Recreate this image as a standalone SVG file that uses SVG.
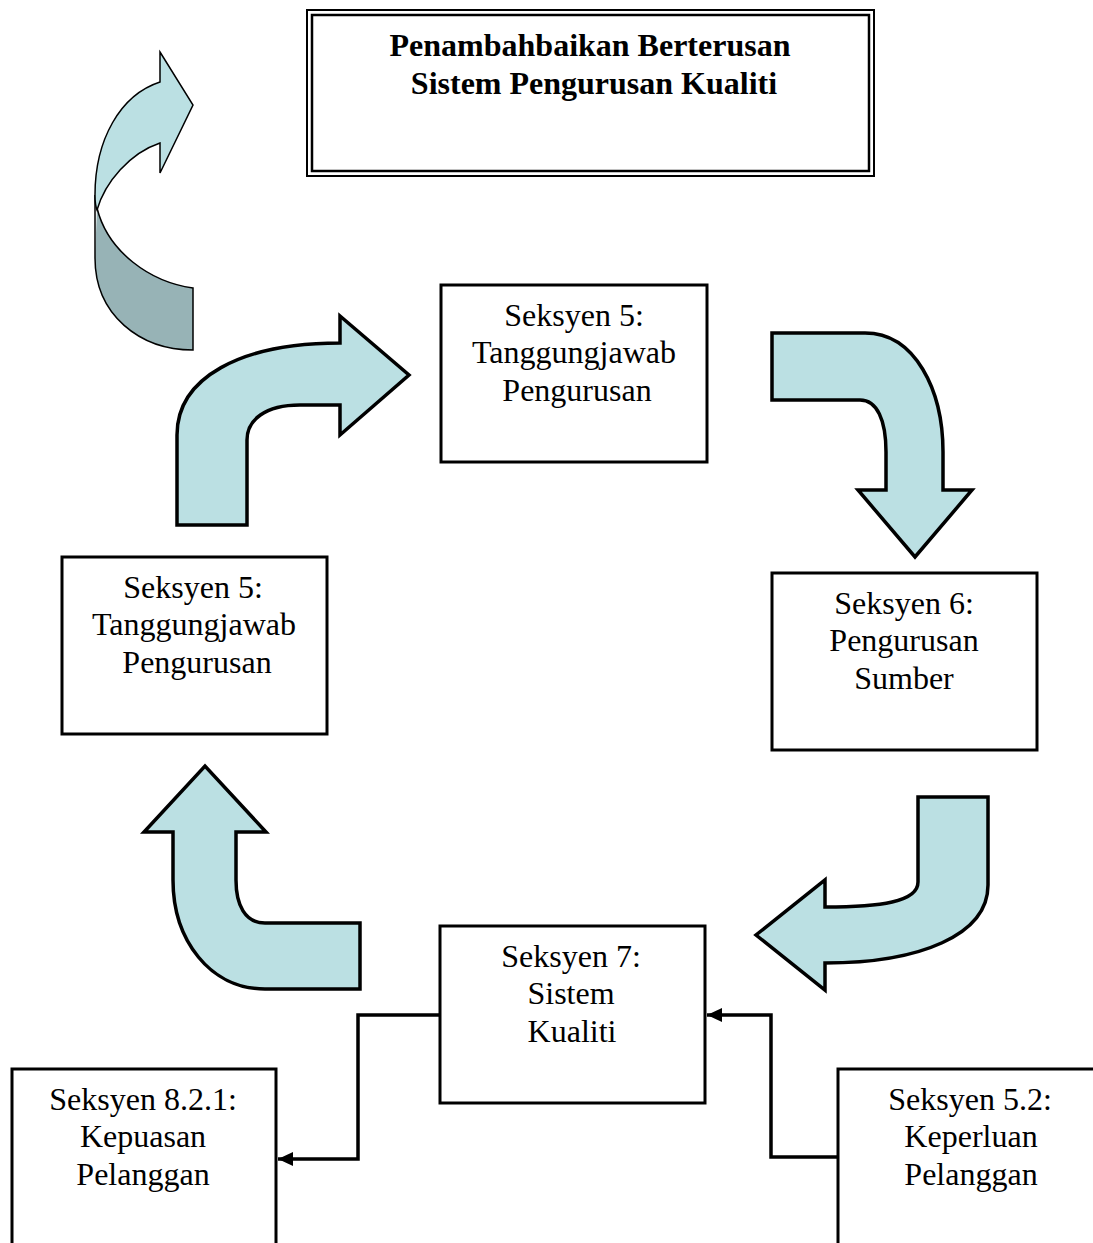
<svg xmlns="http://www.w3.org/2000/svg" width="1093" height="1243" viewBox="0 0 1093 1243">
<style>
.box{fill:#fff;stroke:#000;stroke-width:3}
.t{font-family:"Liberation Serif","Times New Roman",serif;font-size:32px;text-anchor:middle;fill:#000}
.tb{font-family:"Liberation Serif","Times New Roman",serif;font-size:32px;font-weight:bold;text-anchor:middle;fill:#000}
.ba{fill:#BBE0E3;stroke:#000;stroke-width:3.5;stroke-linejoin:miter}
.conn{fill:none;stroke:#000;stroke-width:3.5}
</style>
<defs>
<marker id="ah" markerWidth="15" markerHeight="14" refX="15" refY="7" orient="auto" markerUnits="userSpaceOnUse" viewBox="0 0 15 14">
<path d="M0,0 L15,7 L0,14 Z" fill="#000"/>
</marker>
</defs>
<rect width="1093" height="1243" fill="#fff"/>

<g id="title">
<rect x="307" y="10" width="567" height="166" fill="#fff" stroke="#000" stroke-width="2"/>
<rect x="312" y="15" width="557" height="156" fill="none" stroke="#000" stroke-width="2.5"/>
<text class="tb" x="590" y="56">Penambahbaikan Berterusan</text>
<text class="tb" x="594" y="94">Sistem Pengurusan Kualiti</text>
</g>

<g id="curved-arrow">
<path d="M97,208 L95,258 C95,315 140,350 193,350 L193,288 C150,282 108,252 97,208 Z" fill="#97B3B6" stroke="none"/>
<path d="M95,195 L95,258 C95,315 140,350 193,350 L193,288 C150,282 108,252 97,208" fill="none" stroke="#000" stroke-width="1.5"/>
<path d="M160,52 L193,105 L160,173 L160,143 C130,153 105,182 97,210 C95,205 95,200 95,195 C95,140 120,95 160,82 Z" fill="#BBE0E3" stroke="#000" stroke-width="1.5" stroke-linejoin="miter"/>
</g>

<g id="arrow-up-right">
<path class="ba" d="M177,525 L177,435 C177,378 240,343 340,343 L340,316 L409,375 L340,435 L340,405 L300,405 C265,405 247,420 247,440 L247,525 Z"/>
</g>
<g id="arrow-right-down">
<path class="ba" d="M772,333 L865,333 C915,333 943,390 943,452 L943,490 L972,490 L915,557 L858,490 L886,490 L886,452 C886,420 877,400 860,400 L772,400 Z"/>
</g>
<g id="arrow-down-left">
<path class="ba" d="M918,797 L988,797 L988,885 C988,935 920,963 825,963 L825,990 L756,935 L825,880 L825,907 C880,907 918,902 918,882 Z"/>
</g>
<g id="arrow-left-up">
<path class="ba" d="M360,923 L360,989 L265,989 C210,989 173,940 173,880 L173,832 L144,832 L205,766 L266,832 L236,832 L236,880 C236,905 245,923 265,923 Z"/>
</g>

<g id="box-top">
<rect class="box" x="441" y="285" width="266" height="177"/>
<text class="t" x="574" y="326">Seksyen 5:</text>
<text class="t" x="574" y="363">Tanggungjawab</text>
<text class="t" x="577" y="401">Pengurusan</text>
</g>
<g id="box-left">
<rect class="box" x="62" y="557" width="265" height="177"/>
<text class="t" x="193" y="598">Seksyen 5:</text>
<text class="t" x="194" y="635">Tanggungjawab</text>
<text class="t" x="197" y="673">Pengurusan</text>
</g>
<g id="box-right">
<rect class="box" x="772" y="573" width="265" height="177"/>
<text class="t" x="904" y="614">Seksyen 6:</text>
<text class="t" x="904" y="651">Pengurusan</text>
<text class="t" x="904" y="689">Sumber</text>
</g>
<g id="box-bottom">
<rect class="box" x="440" y="926" width="265" height="177"/>
<text class="t" x="571" y="967">Seksyen 7:</text>
<text class="t" x="571" y="1004">Sistem</text>
<text class="t" x="572" y="1042">Kualiti</text>
</g>
<g id="box-bottom-left">
<rect class="box" x="12" y="1069" width="264" height="190"/>
<text class="t" x="143" y="1110">Seksyen 8.2.1:</text>
<text class="t" x="143" y="1147">Kepuasan</text>
<text class="t" x="143" y="1185">Pelanggan</text>
</g>
<g id="box-bottom-right">
<rect class="box" x="838" y="1069" width="270" height="190"/>
<text class="t" x="970" y="1110">Seksyen 5.2:</text>
<text class="t" x="971" y="1147">Keperluan</text>
<text class="t" x="971" y="1185">Pelanggan</text>
</g>

<g id="connectors">
<path class="conn" d="M440,1015 L358,1015 L358,1159 L278,1159" marker-end="url(#ah)"/>
<path class="conn" d="M838,1157 L771,1157 L771,1015 L707,1015" marker-end="url(#ah)"/>
</g>
</svg>
